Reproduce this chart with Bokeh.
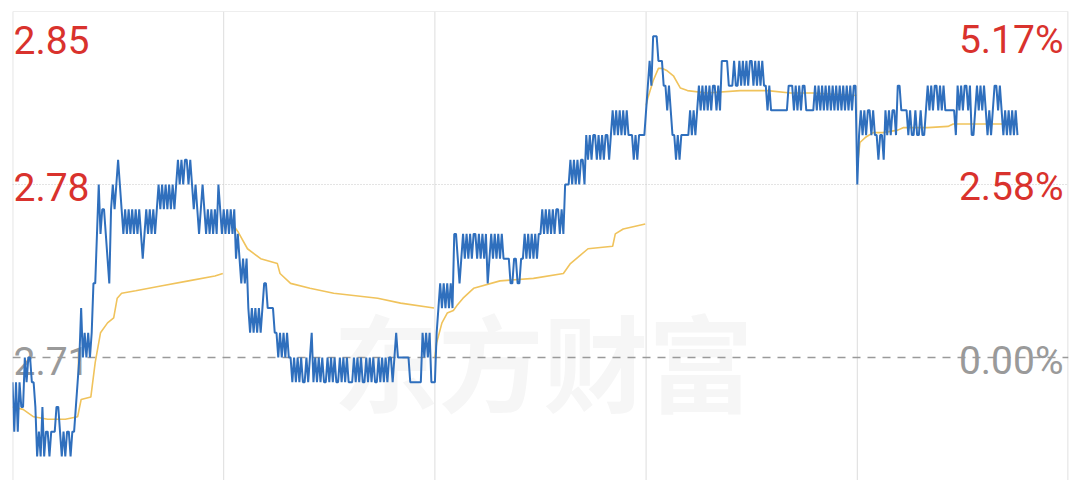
from bokeh.plotting import figure
from bokeh.models import Span, Range1d
from bokeh.embed import file_html
from bokeh.resources import INLINE
from bokeh.core.properties import value

# ---------------- data ----------------
prev_close = 2.71
day_minutes = 240
n_days = 5
sample_step = 2  # minutes between samples

# price in cents (sampled every 2 minutes), one list per trading day
day1_cents = [270, 268, 270, 268, 270, 269, 269,
              271, 270, 271, 271, 270, 270,
              269, 267, 268, 267, 269,
              267, 268,
              268, 267, 268, 268, 268,
              269, 269, 268,
              267, 268, 267, 268, 268, 267, 268, 268,
              269, 270,
              271, 273, 271,
              272, 271, 272, 271,
              272, 274, 274,
              276, 278, 276, 277, 277, 276, 275, 274, 277,
              278, 277, 278, 279, 278, 277,
              276, 277, 276, 277, 276, 277, 276, 277, 276, 277, 276,
              275,
              276, 277, 276, 277, 276, 277, 276, 277,
              278, 277, 278, 277, 278, 277, 278, 277, 278, 277, 278,
              279, 278, 279, 278, 279, 279, 278, 279, 278, 277, 278,
              277, 276, 277, 278, 277, 276, 277, 276, 277, 276,
              277, 276, 278, 277, 276]

day2_cents = [277, 276, 277, 276, 277, 276, 277,
              275, 276,
              275, 274, 275, 274, 275,
              273, 272, 273, 272, 273, 272, 273, 272, 273,
              274, 274,
              273, 273, 273, 273, 272,
              272, 271, 272, 271, 272, 271, 272, 271, 271,
              270, 271, 270, 271, 270, 271, 270, 270, 271, 270,
              271, 272, 270, 271, 270, 271, 270, 271, 270, 270,
              271, 270, 271, 270, 271, 270, 270, 271, 270, 271,
              270, 271, 270, 270, 270, 271, 270, 271, 270, 271,
              270, 270, 271, 270, 271, 270, 271, 270, 270, 271,
              270, 271, 270, 271, 270, 271, 271, 270, 271, 272,
              271, 271, 271, 271, 271, 271, 271,
              270, 270, 270, 270, 270, 270, 270,
              272, 271, 272, 271, 272,
              270, 270]

day3_cents = [270, 272,
              273, 274,
              273, 274, 273, 274, 273, 274, 273,
              276, 276,
              275, 274, 275,
              276, 275, 276, 275, 276, 275, 276, 276, 275, 276, 275, 276, 275, 276,
              274,
              275, 276, 275, 276, 275, 276, 275, 276,
              275, 275, 275, 275, 274, 274, 275, 275, 274, 274, 275, 275,
              276, 275, 276, 275, 276, 275, 276, 275, 276, 276,
              277, 276, 277, 276, 277, 276, 277, 276, 277, 277, 276, 277, 276,
              278, 278, 278,
              279, 278, 279, 278, 279, 278, 279, 279, 278,
              280, 279, 280, 279, 280, 280, 279, 280, 279, 280, 279, 280, 280, 279, 280,
              281, 280, 281, 280, 281, 280, 281, 280, 281, 280,
              280, 280, 279, 280, 279, 280, 280, 280,
              280]

day4_cents = [281, 282,
              283, 282,
              284, 284, 284,
              283, 283, 283,
              282, 282, 281, 282, 281,
              280, 280, 279,
              280, 279, 280,
              280, 280, 280, 280,
              281, 280, 281, 280,
              281, 282, 281, 282, 281, 282, 281, 282, 281, 282, 282, 281, 282, 281,
              283, 283, 283, 283,
              282, 282, 282, 283, 282, 282,
              283, 282, 283, 282, 283, 282, 283, 283, 282, 283, 282, 283, 282, 283,
              282, 282, 281, 282, 281,
              281, 281, 281, 281, 281, 281, 281, 281, 281,
              282, 282, 282,
              281, 282, 281, 282, 281, 282, 282, 281,
              281, 281, 281, 281,
              282, 281, 282, 281, 282, 281, 282, 281, 282, 281, 282, 281,
              282, 281, 282, 281, 282, 281, 282, 281, 282, 281, 282,
              282]

day5_cents = [278,
              280, 281, 280, 281, 280, 281, 281, 280, 281, 280,
              280, 279, 280, 280, 279,
              281, 280, 281, 280, 281, 281, 280,
              282, 282, 281,
              281, 281, 281,
              280, 281, 280, 280, 281, 280, 280, 281, 280, 280, 281,
              282, 281, 282, 281, 282, 282, 281, 282, 281, 282, 281,
              281, 281, 281, 281, 281,
              280, 282, 281, 282, 281, 282, 282, 281, 282, 280,
              280, 281, 282, 281, 282, 281, 282, 281, 280, 281,
              280, 281, 282, 282,
              281, 282, 281, 280,
              281, 280, 281, 280, 281, 280, 281, 280]

days_cents = [day1_cents, day2_cents, day3_cents, day4_cents, day5_cents]

# intraday average price line (minute of day, price), one pair per day
avg1_min = [0, 12, 24, 40, 60, 74, 78, 89, 94, 100, 108, 115, 119, 124, 140, 170, 200, 230, 239]
avg1_val = [2.690, 2.689, 2.686, 2.685, 2.685, 2.686, 2.693, 2.694, 2.708, 2.720, 2.724, 2.726,
            2.734, 2.736, 2.737, 2.739, 2.741, 2.743, 2.744]
avg2_min = [0, 4, 8, 16, 27, 42, 61, 64, 76, 98, 125, 175, 201, 239]
avg2_val = [2.763, 2.764, 2.765, 2.761, 2.754, 2.750, 2.748, 2.744, 2.740, 2.738, 2.736, 2.734,
            2.732, 2.730]
avg3_min = [0, 2, 8, 14, 21, 25, 32, 44, 74, 112, 146, 154, 174, 202, 205, 214, 239]
avg3_val = [2.710, 2.716, 2.724, 2.728, 2.729, 2.731, 2.734, 2.738, 2.741, 2.742, 2.744, 2.748,
            2.754, 2.755, 2.760, 2.762, 2.764]
avg4_min = [0, 2, 8, 14, 18, 24, 31, 39, 47, 69, 107, 138, 164, 190, 239]
avg4_val = [2.812, 2.815, 2.822, 2.827, 2.827, 2.826, 2.824, 2.819, 2.818, 2.817, 2.818, 2.818,
            2.817, 2.817, 2.816]
avg5_min = [0, 3, 9, 18, 29, 46, 52, 80, 103, 109, 182]
avg5_val = [2.787, 2.797, 2.799, 2.801, 2.801, 2.802, 2.803, 2.803, 2.8035, 2.8045, 2.8045]

avg_days = [(avg1_min, avg1_val), (avg2_min, avg2_val), (avg3_min, avg3_val),
            (avg4_min, avg4_val), (avg5_min, avg5_val)]

price_ticks = [2.85, 2.78, 2.71]
left_labels = ["2.85", "2.78", "2.71"]
right_labels = ["5.17%", "2.58%", "0.00%"]
watermark = "东方财富"

# ---------------- build series ----------------
px, py = [], []
for d, cents in enumerate(days_cents):
    for j, c in enumerate(cents):
        px.append(d * day_minutes + j * sample_step)
        py.append(c / 100.0)

# ---------------- figure ----------------
W, H = 1072, 480
BL, BR, BT, BB = 12, 4, 11, 0
top_price = price_ticks[0]
px_per_unit = 173 / 0.07
frame_h = H - BT - BB
bottom_price = top_price - frame_h / px_per_unit

p = figure(width=W, height=H, output_backend="svg", toolbar_location=None, title=None,
           x_range=Range1d(0, day_minutes * n_days), y_range=Range1d(bottom_price, top_price),
           x_axis_location=None, y_axis_location=None,
           min_border_left=BL, min_border_right=BR, min_border_top=BT, min_border_bottom=BB)
p.xgrid.visible = False
p.ygrid.visible = False
p.outline_line_color = None
p.background_fill_color = "white"
p.border_fill_color = "white"

# watermark
wm = p.text(x=[day_minutes * n_days * 0.5025], y=[prev_close], text=[watermark],
            text_font=value("Noto Sans CJK SC"), text_font_size="105px", text_font_style="bold",
            text_color="#f6f6f6", text_align="center", text_baseline="middle")
wm.level = "image"

# frame lines and day separators
grid_col = "#dddddd"
for d in range(1, n_days):
    p.add_layout(Span(location=d * day_minutes, dimension="height", line_color=grid_col,
                      line_width=1, level="underlay"))
p.add_layout(Span(location=0.3, dimension="height", line_color=grid_col, line_width=1.2, level="underlay"))
p.add_layout(Span(location=day_minutes * n_days - 0.5, dimension="height", line_color=grid_col,
                  line_width=1.2, level="underlay"))
p.add_layout(Span(location=top_price, dimension="width", line_color=grid_col, line_width=1.2,
                  level="underlay"))
p.add_layout(Span(location=price_ticks[1], dimension="width", line_color="#c8c8c8",
                  line_dash="1 2", line_width=1, level="underlay"))
p.add_layout(Span(location=prev_close, dimension="width", line_color="#9a9a9a",
                  line_dash="8 7", line_width=1.5, level="underlay"))

# axis value labels
red = "#d9322d"
gray = "#9a9a9a"
label_cols = [red, red, gray]
offsets = [28, 2, 3]
font = value("Roboto")
for lab, rlab, pr, col, off in zip(left_labels, right_labels, price_ticks, label_cols, offsets):
    p.text(x=[0], y=[pr], text=[lab], text_font=font, text_font_size="39px",
           text_color=col, text_align="left", text_baseline="middle", x_offset=1, y_offset=off)
    p.text(x=[day_minutes * n_days], y=[pr], text=[rlab], text_font=font, text_font_size="39px",
           text_color=col, text_align="right", text_baseline="middle", x_offset=-5, y_offset=off)

# average lines (reset each day)
for d, (mins, vals) in enumerate(avg_days):
    p.line([d * day_minutes + m for m in mins], vals, line_color="#f0c35c", line_width=1.6)

# price line
p.line(px, py, line_color="#2f6fbd", line_width=2)

open("out.html", "w").write(file_html(p, INLINE))
